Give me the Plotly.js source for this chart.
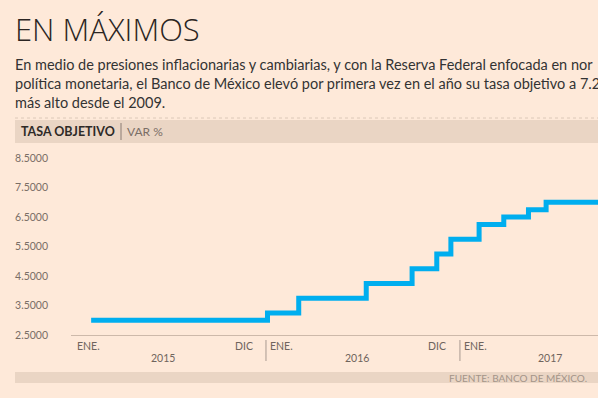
<!DOCTYPE html>
<html>
<head>
<meta charset="utf-8">
<script src="https://cdn.plot.ly/plotly-3.0.1.min.js"></script>
<style>
html,body{margin:0;padding:0;background:#fee9d9;}
#chart{width:598px;height:398px;}
</style>
</head>
<body>
<div id="chart"></div>
<script>
// Data: Banxico target rate (tasa objetivo), step changes
const dates = ['2015-01-01','2015-12-17','2016-02-17','2016-06-30','2016-09-29','2016-11-17','2016-12-15','2017-02-09','2017-03-30','2017-05-18','2017-06-22','2017-10-31'];
const rates = [3.00, 3.25, 3.75, 4.25, 4.75, 5.25, 5.75, 6.25, 6.50, 6.75, 7.00, 7.00];

const yTicks = [2.5, 3.5, 4.5, 5.5, 6.5, 7.5, 8.5];
const monthLabels = ['ENE.', 'DIC', 'ENE.', 'DIC', 'ENE.'];
const monthLabelDates = ['2014-11-30', '2015-11-22', '2015-12-18', '2016-12-09', '2017-01-06'];
const monthAnchors = ['left', 'right', 'left', 'right', 'left'];
const yearLabels = ['2015', '2016', '2017'];
const yearLabelDates = ['2015-05-24', '2016-06-12', '2017-06-30'];
const dividerDates = ['2015-12-14', '2017-01-02'];

const W = 598, H = 398;
const px = v => v / W;
const py = v => 1 - v / H;

const FONT = 'Lato, "Open Sans", sans-serif';

const annotations = [];
// Title
annotations.push({xref:'paper', yref:'paper', x:px(13), y:py(6), xanchor:'left', yanchor:'top',
  text:'EN MÁXIMOS', showarrow:false, font:{family:'"Open Sans", Lato, sans-serif', size:31, color:'#2b2522', weight:300}});
// Subtitle
annotations.push({xref:'paper', yref:'paper', x:px(13), y:py(54), xanchor:'left', yanchor:'top', align:'left',
  text:'En medio de presiones inflacionarias y cambiarias, y con la Reserva Federal enfocada en nor<br>política monetaria, el Banco de México elevó por primera vez en el año su tasa objetivo a 7.2<br>más alto desde el 2009.',
  showarrow:false, font:{family:FONT, size:14.5, color:'#333'}});
// Header band text
annotations.push({xref:'paper', yref:'paper', x:px(19), y:py(131.5), xanchor:'left', yanchor:'middle',
  text:'<b>TASA OBJETIVO</b>', showarrow:false, font:{family:FONT, size:12.5, color:'#2e2a27', weight:900}});
annotations.push({xref:'paper', yref:'paper', x:px(125), y:py(131.5), xanchor:'left', yanchor:'middle',
  text:'VAR %', showarrow:false, font:{family:FONT, size:12, color:'#7a6e66'}});
// Source
annotations.push({xref:'paper', yref:'paper', x:px(589), y:py(378), xanchor:'right', yanchor:'middle',
  text:'FUENTE: BANCO DE MÉXICO.', showarrow:false, font:{family:FONT, size:10, color:'#a39488'}});
// Month labels
monthLabels.forEach((t, i) => annotations.push({xref:'x', yref:'paper', x:monthLabelDates[i], y:py(346), xanchor:monthAnchors[i], yanchor:'middle',
  text:t, showarrow:false, font:{family:FONT, size:10.5, color:'#6f645d'}}));
// Year labels
yearLabels.forEach((t, i) => annotations.push({xref:'x', yref:'paper', x:yearLabelDates[i], y:py(358), xanchor:'center', yanchor:'middle',
  text:t, showarrow:false, font:{family:FONT, size:10.5, color:'#6f645d'}}));

const shapes = [];
// dotted separator
shapes.push({type:'line', xref:'paper', yref:'paper', x0:px(15), x1:px(598), y0:py(118), y1:py(118), line:{color:'#dcc8b8', width:1, dash:'dot'}});
// header band
shapes.push({type:'rect', xref:'paper', yref:'paper', x0:px(15), x1:px(600), y0:py(143), y1:py(120), fillcolor:'#ead5c4', line:{width:0}, layer:'below'});
// header divider
shapes.push({type:'line', xref:'paper', yref:'paper', x0:px(121), x1:px(121), y0:py(123), y1:py(140), line:{color:'#8a7d74', width:1}});
// footer band
shapes.push({type:'rect', xref:'paper', yref:'paper', x0:px(15), x1:px(600), y0:py(383), y1:py(372), fillcolor:'#ead5c4', line:{width:0}, layer:'below'});
// year dividers
dividerDates.forEach(d => shapes.push({type:'line', xref:'x', yref:'paper', x0:d, x1:d, y0:py(340), y1:py(361), line:{color:'#a89a90', width:1}}));

const trace = {
  type:'scatter', mode:'lines', x:dates, y:rates,
  line:{shape:'hv', color:'#00aeef', width:5},
  hoverinfo:'skip'
};

const layout = {
  width:W, height:H,
  margin:{l:0, r:0, t:0, b:0},
  paper_bgcolor:'#fee9d9', plot_bgcolor:'rgba(0,0,0,0)',
  showlegend:false,
  xaxis:{type:'date', domain:[71/W, 1], range:['2014-11-22','2017-10-03'],
    showgrid:false, zeroline:false, showticklabels:false, ticks:'',
    showline:true, linecolor:'#cdb9aa', linewidth:1},
  yaxis:{domain:[(H-335)/H, (H-158)/H], range:[2.5, 8.5], tickvals:yTicks, tickformat:'.4f',
    showgrid:false, zeroline:false, showline:false, ticks:'', ticklabelstandoff:22,
    tickfont:{family:FONT, size:10.5, color:'#7a6e66'}},
  annotations:annotations,
  shapes:shapes
};

Plotly.newPlot('chart', [trace], layout, {displayModeBar:false, staticPlot:true});
</script>
</body>
</html>
